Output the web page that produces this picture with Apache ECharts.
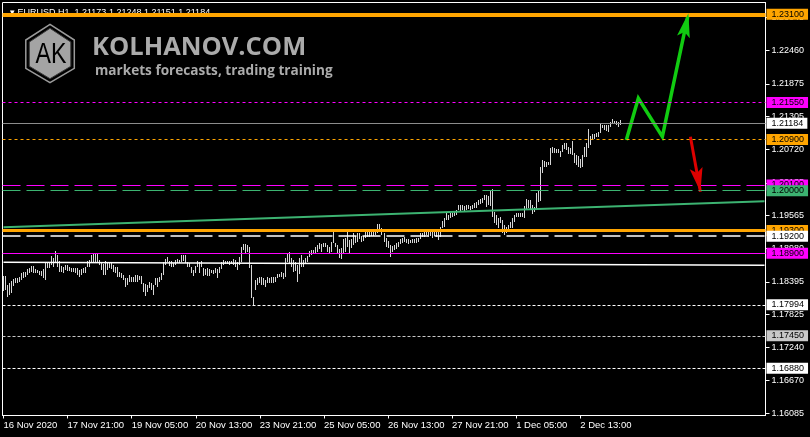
<!DOCTYPE html>
<html><head><meta charset="utf-8">
<script src="https://cdn.jsdelivr.net/npm/echarts@6/dist/echarts.min.js"></script>
<style>html,body{margin:0;padding:0;background:#000;}#c{width:810px;height:437px;}</style>
</head><body><div id="c"></div>
<script>
// ---- DATA ----
const symbolTitle = 'EURUSD,H1  1.21173 1.21248 1.21151 1.21184';
const timeLabels = ['16 Nov 2020','17 Nov 21:00','19 Nov 05:00','20 Nov 13:00','23 Nov 21:00','25 Nov 05:00','26 Nov 13:00','27 Nov 21:00','1 Dec 05:00','2 Dec 13:00'];
const barsPerTimeLabel = 32;
const totalSlots = 381;
const highs = [
1.18501,1.18501,1.18342,1.18372,1.18413,1.18442,1.18459,1.18471,1.18489,1.18547,
1.18577,1.18577,1.18618,1.18647,1.18676,1.18676,1.18618,1.18606,1.18594,1.18594,
1.18618,1.18752,1.18752,1.18752,1.18852,1.18811,1.18940,1.18870,1.18770,1.18676,
1.18665,1.18694,1.18694,1.18653,1.18647,1.18647,1.18647,1.18647,1.18606,1.18618,
1.18635,1.18665,1.18770,1.18782,1.18870,1.18899,1.18899,1.18899,1.18782,1.18752,
1.18706,1.18764,1.18752,1.18752,1.18723,1.18694,1.18665,1.18665,1.18577,1.18559,
1.18518,1.18459,1.18459,1.18518,1.18489,1.18489,1.18518,1.18518,1.18501,1.18501,
1.18372,1.18360,1.18342,1.18401,1.18372,1.18342,1.18459,1.18459,1.18489,1.18547,
1.18752,1.18794,1.18829,1.18770,1.18770,1.18735,1.18782,1.18794,1.18782,1.18870,
1.18870,1.18870,1.18752,1.18735,1.18665,1.18606,1.18676,1.18770,1.18752,1.18770,
1.18635,1.18618,1.18635,1.18618,1.18606,1.18606,1.18635,1.18618,1.18665,1.18752,
1.18782,1.18770,1.18770,1.18770,1.18770,1.18794,1.18782,1.18752,1.18840,1.19004,
1.19063,1.19063,1.19045,1.19016,1.18694,1.18137,1.18430,1.18459,1.18489,1.18489,
1.18459,1.18430,1.18489,1.18459,1.18477,1.18477,1.18488,1.18535,1.18535,1.18576,
1.18559,1.18811,1.18898,1.18928,1.18811,1.18781,1.18752,1.18694,1.18811,1.18869,
1.18781,1.18811,1.18852,1.18945,1.18957,1.18957,1.19016,1.19045,1.19074,1.19063,
1.19086,1.19086,1.19045,1.19016,1.19104,1.19291,1.19086,1.19045,1.18969,1.18986,
1.19145,1.19162,1.19268,1.19133,1.19145,1.19250,1.19203,1.19250,1.19250,1.19203,
1.19203,1.19279,1.19279,1.19279,1.19297,1.19279,1.19309,1.19414,1.19414,1.19338,
1.19250,1.19162,1.19121,1.19045,1.19027,1.19045,1.19074,1.19104,1.19145,1.19162,
1.19180,1.19145,1.19145,1.19133,1.19145,1.19145,1.19162,1.19162,1.19250,1.19250,
1.19279,1.19297,1.19279,1.19297,1.19279,1.19309,1.19297,1.19279,1.19367,1.19473,
1.19514,1.19602,1.19572,1.19602,1.19613,1.19631,1.19660,1.19748,1.19748,1.19748,
1.19731,1.19748,1.19748,1.19731,1.19748,1.19789,1.19807,1.19830,1.19848,1.19865,
1.19924,1.19924,1.19906,1.20012,1.20024,1.19631,1.19572,1.19514,1.19543,1.19484,
1.19396,1.19367,1.19396,1.19455,1.19514,1.19572,1.19602,1.19602,1.19602,1.19602,
1.19731,1.19848,1.19836,1.19836,1.19748,1.19719,1.19953,1.20012,1.20422,1.20539,
1.20527,1.20510,1.20510,1.20744,1.20762,1.20744,1.20727,1.20727,1.20703,1.20803,
1.20832,1.20844,1.20762,1.20744,1.20879,1.20656,1.20627,1.20609,1.20551,1.20627,
1.20774,1.20844,1.21078,1.20961,1.20996,1.20996,1.21020,1.21037,1.21196,1.21154,
1.21154,1.21154,1.21154,1.21213,1.21254,1.21231,1.21231,1.21213,1.21248];
const lows = [
1.18243,1.18260,1.18137,1.18166,1.18196,1.18331,1.18372,1.18372,1.18401,1.18430,
1.18459,1.18489,1.18518,1.18559,1.18577,1.18559,1.18547,1.18547,1.18518,1.18501,
1.18459,1.18430,1.18647,1.18647,1.18694,1.18665,1.18723,1.18665,1.18577,1.18577,
1.18559,1.18606,1.18594,1.18594,1.18577,1.18577,1.18559,1.18518,1.18489,1.18518,
1.18547,1.18559,1.18665,1.18665,1.18752,1.18752,1.18752,1.18723,1.18694,1.18606,
1.18518,1.18518,1.18606,1.18635,1.18618,1.18577,1.18547,1.18489,1.18489,1.18459,
1.18430,1.18313,1.18342,1.18401,1.18401,1.18401,1.18401,1.18401,1.18430,1.18360,
1.18225,1.18149,1.18225,1.18284,1.18254,1.18166,1.18342,1.18313,1.18401,1.18430,
1.18518,1.18694,1.18752,1.18676,1.18665,1.18653,1.18694,1.18735,1.18723,1.18752,
1.18770,1.18735,1.18665,1.18665,1.18547,1.18501,1.18547,1.18665,1.18559,1.18665,
1.18501,1.18518,1.18501,1.18501,1.18547,1.18536,1.18547,1.18459,1.18559,1.18618,
1.18694,1.18711,1.18711,1.18694,1.18711,1.18694,1.18665,1.18606,1.18694,1.18752,
1.18958,1.18899,1.18928,1.18635,1.18108,1.17994,1.18254,1.18342,1.18372,1.18342,
1.18342,1.18313,1.18372,1.18372,1.18371,1.18383,1.18400,1.18459,1.18477,1.18477,
1.18447,1.18488,1.18752,1.18723,1.18664,1.18576,1.18594,1.18400,1.18535,1.18664,
1.18664,1.18711,1.18752,1.18840,1.18869,1.18887,1.18910,1.18928,1.18969,1.18928,
1.19004,1.19016,1.18928,1.18898,1.18928,1.19074,1.19016,1.18898,1.18811,1.18793,
1.18898,1.18928,1.19016,1.18898,1.18986,1.19045,1.19074,1.19104,1.19145,1.19104,
1.19121,1.19162,1.19191,1.19191,1.19203,1.19203,1.19221,1.19250,1.19309,1.19221,
1.19104,1.19016,1.18986,1.18840,1.18928,1.18957,1.18969,1.19004,1.19063,1.19086,
1.19104,1.19074,1.19063,1.19074,1.19074,1.19086,1.19086,1.19104,1.19145,1.19180,
1.19191,1.19221,1.19191,1.19203,1.19162,1.19203,1.19191,1.19133,1.19191,1.19338,
1.19356,1.19484,1.19484,1.19514,1.19543,1.19555,1.19572,1.19660,1.19648,1.19660,
1.19648,1.19660,1.19672,1.19660,1.19672,1.19690,1.19690,1.19748,1.19770,1.19789,
1.19836,1.19719,1.19750,1.19730,1.19543,1.19426,1.19396,1.19338,1.19426,1.19250,
1.19221,1.19250,1.19279,1.19338,1.19338,1.19455,1.19531,1.19543,1.19531,1.19531,
1.19514,1.19660,1.19690,1.19660,1.19590,1.19631,1.19660,1.19807,1.19824,1.20305,
1.20422,1.20422,1.20451,1.20451,1.20656,1.20656,1.20656,1.20656,1.20598,1.20686,
1.20727,1.20715,1.20645,1.20645,1.20627,1.20481,1.20451,1.20422,1.20393,1.20422,
1.20586,1.20598,1.20744,1.20803,1.20891,1.20903,1.20938,1.20949,1.21008,1.21096,
1.21067,1.21055,1.21037,1.21125,1.21184,1.21172,1.21154,1.21125,1.21151];
const priceTicks = [1.16085,1.16670,1.17240,1.17825,1.18395,1.18980,1.19565,1.20135,1.20720,1.21305,1.21875,1.22460,1.23045];
const levelPrices = [1.23100,1.21550,1.21184,1.20900,1.20100,1.20000,1.19300,1.19200,1.18900,1.17994,1.17450,1.16880];
const greenTrend = [[0,1.19357],[380,1.19816]];
const whiteTrend = [[0,1.18741],[380,1.18688]];
const forecastUp = [[311,1.20891],[317,1.21623],[329,1.20949],[342,1.23117]];
const forecastDown = [[343,1.20949],[348,1.19980]];
const yMin = 1.16049, yMax = 1.23307;

// ---- STYLES ----
const ORANGE='#ffa500', MAG='#ff00ff', GREEN='#3cb371', WHITE='#ffffff';
const levelStyles = [
  {c:ORANGE,w:4,t:'solid',bg:ORANGE},
  {c:MAG,w:1,t:[3,3],bg:MAG},
  {c:'#8c8c8c',w:1,t:'solid',bg:WHITE},
  {c:ORANGE,w:1,t:[3,3],bg:ORANGE},
  {c:MAG,w:1,t:[18,6],bg:MAG},
  {c:GREEN,w:1,t:[18,6],bg:GREEN},
  {c:ORANGE,w:3,t:'solid',bg:ORANGE},
  {c:WHITE,w:1.5,t:[18,6],bg:WHITE},
  {c:MAG,w:1,t:'solid',bg:MAG},
  {c:WHITE,w:1,t:[3,2],bg:WHITE},
  {c:'#c8c8c8',w:1,t:[3,2],bg:'#c8c8c8'},
  {c:WHITE,w:1,t:[3,2],bg:WHITE}
];
const FONT = 'Liberation Sans';

const categories = Array.from({length: totalSlots}, (_, i) =>
  (i % barsPerTimeLabel === 0 && timeLabels[i / barsPerTimeLabel]) ? timeLabels[i / barsPerTimeLabel] : '');
const barData = highs.map((h, i) => [i, h, lows[i]]);

const markData = levelPrices.map((p, i) => ({
  yAxis: p,
  lineStyle: {color: levelStyles[i].c, width: levelStyles[i].w, type: levelStyles[i].t},
  label: {show: true, position: 'end', distance: 1, formatter: p.toFixed(5),
    backgroundColor: levelStyles[i].bg, color: '#000', fontFamily: FONT, fontSize: 9,
    lineHeight: 9, padding: [1, 4, 1, 5]}
}));

const arrowColors = ['#11cc11', '#dd0000'];
const arrowHeads = [
  [forecastUp[2][0], forecastUp[2][1], forecastUp[3][0], forecastUp[3][1]],
  [forecastDown[0][0], forecastDown[0][1], forecastDown[1][0], forecastDown[1][1]]
];

const chart = echarts.init(document.getElementById('c'), null, {renderer: 'canvas'});
chart.setOption({
  backgroundColor: '#000',
  animation: false,
  title: {text: '\u25BE ' + symbolTitle, left: 5, top: 3, z: 1,
    textStyle: {color: '#fff', fontSize: 9, fontWeight: 'normal', fontFamily: FONT}},
  grid: {left: 2.5, right: 44.5, top: 2.5, bottom: 21.5, show: true, borderColor: '#fff', borderWidth: 1,
    backgroundColor: 'transparent', containLabel: false, outerBoundsMode: 'none'},
  xAxis: {type: 'category', data: categories, boundaryGap: true,
    axisLine: {show: true, lineStyle: {color: '#fff', width: 1}},
    axisTick: {show: true, alignWithLabel: true, length: 3, interval: (idx, v) => v !== '', lineStyle: {color: '#fff'}},
    axisLabel: {show: true, interval: (idx, v) => v !== '', align: 'left', margin: 5, color: '#fff',
      fontSize: 9.5, fontFamily: FONT, hideOverlap: false},
    splitLine: {show: false}},
  yAxis: {type: 'value', position: 'right', min: yMin, max: yMax, scale: true,
    axisLine: {show: true, lineStyle: {color: '#fff', width: 1}},
    axisTick: {show: true, length: 4, customValues: priceTicks, lineStyle: {color: '#fff'}},
    axisLabel: {show: true, customValues: priceTicks, margin: 6, color: '#fff', fontSize: 9, fontFamily: FONT,
      formatter: v => v.toFixed(5)},
    splitLine: {show: false}},
  graphic: [
    {type: 'polygon', z: 1, shape: {points: [[50,24.3],[74.3,40],[74.3,68.3],[50,82.7],[25.8,68.3],[25.8,40]]},
      style: {fill: 'none', stroke: '#9a9a9a', lineWidth: 1.5}},
    {type: 'polygon', z: 1, shape: {points: [[50,28.3],[70.8,42],[70.8,66.3],[50,78.7],[29.3,66.3],[29.3,42]]},
      style: {fill: '#a4a4a4', stroke: '#3a3a3a', lineWidth: 1}},
    {type: 'text', z: 2, x: 51, y: 55, scaleX: 0.8,
      style: {text: 'AK', fill: '#000', font: 'normal 29px "Liberation Sans"', align: 'center', verticalAlign: 'middle'}},
    {type: 'text', z: 2, x: 92, y: 48,
      style: {text: 'KOLHANOV.COM', fill: '#ababab', font: 'bold 25.5px "Open Sans"', align: 'left', verticalAlign: 'middle'}},
    {type: 'text', z: 2, x: 95, y: 71,
      style: {text: 'markets forecasts, trading training', fill: '#ababab', font: 'bold 13.6px "Open Sans"', align: 'left', verticalAlign: 'middle'}}
  ],
  series: [
    {type: 'line', name: 'green trend', data: greenTrend, symbol: 'none', silent: true,
      lineStyle: {color: GREEN, width: 2},
      markLine: {silent: true, precision: 5, symbol: ['none', 'none'], animation: false, data: markData}},
    {type: 'line', name: 'white trend', data: whiteTrend, symbol: 'none', silent: true,
      lineStyle: {color: '#fff', width: 1.5}},
    {type: 'custom', name: 'EURUSD', data: barData, silent: true, z: 3,
      encode: {x: 0, y: [1, 2]},
      renderItem: function (params, api) {
        const hi = api.coord([api.value(0), api.value(1)]);
        const lo = api.coord([api.value(0), api.value(2)]);
        const x = Math.floor(hi[0]);
        return {type: 'rect', shape: {x: x, y: Math.round(hi[1]), width: 1, height: Math.max(1, Math.round(lo[1]) - Math.round(hi[1]))},
          style: {fill: '#d6d6d6'}};
      }},
    {type: 'line', name: 'forecast up', data: forecastUp, symbol: 'none', silent: true, z: 4,
      lineStyle: {color: arrowColors[0], width: 3.5, join: 'miter'}},
    {type: 'line', name: 'forecast down', data: forecastDown, symbol: 'none', silent: true, z: 4,
      lineStyle: {color: arrowColors[1], width: 3}},
    {type: 'custom', name: 'arrow heads', data: arrowHeads, silent: true, z: 5,
      encode: {x: [0, 2], y: [1, 3]},
      renderItem: function (params, api) {
        const p0 = api.coord([api.value(0), api.value(1)]);
        const p1 = api.coord([api.value(2), api.value(3)]);
        const dx = p1[0] - p0[0], dy = p1[1] - p0[1];
        const L = Math.hypot(dx, dy), ux = dx / L, uy = dy / L, nx = -uy, ny = ux;
        const len = 24, hw = 6.5, notch = 5;
        const bx = p1[0] - ux * len, by = p1[1] - uy * len;
        return {type: 'polygon', shape: {points: [[p1[0], p1[1]], [bx + nx * hw, by + ny * hw], [bx + ux * notch, by + uy * notch], [bx - nx * hw, by - ny * hw]]},
          style: {fill: arrowColors[params.dataIndex]}};
      }}
  ]
});
</script></body></html>
